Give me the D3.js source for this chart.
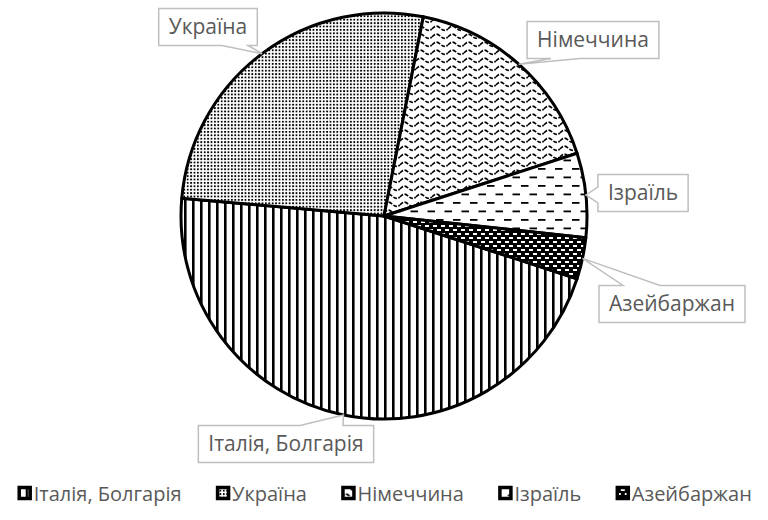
<!DOCTYPE html>
<html>
<head>
<meta charset="utf-8">
<script src="https://cdn.jsdelivr.net/npm/d3@7"></script>
<style>
  body { margin: 0; background: #fff; }
  text { font-family: "Open Sans", sans-serif; fill: #595959; }
</style>
</head>
<body>
<script>
var width = 768;
var height = 520;

// data
var countries = ["Італія, Болгарія", "Україна", "Німеччина", "Ізраїль", "Азейбаржан"];
var shares = [46.4, 26.7, 16.9, 6.7, 3.3];
var fills = ["pVert", "pDots", "pWave", "pDash", "pBrick"];

// label callouts: box centre, side the pointer leaves from, pointer base along that side
var callouts = [
  {cx: 286, cy: 444, side: "top", b0: 300, b1: 343},
  {cx: 208, cy: 27, side: "bottom", b0: 222, b1: 248},
  {cx: 593, cy: 40, side: "bottom", b0: 551, b1: 580},
  {cx: 643, cy: 193, side: "left", b0: 187, b1: 203},
  {cx: 672, cy: 304, side: "top", b0: 623, b1: 660}
];

var cx = 384, cy = 216, r = 203;

var svg = d3.select("body").append("svg")
    .attr("width", width)
    .attr("height", height);

var defs = svg.append("defs");

// vertical lines
var p = defs.append("pattern").attr("id", "pVert").attr("patternUnits", "userSpaceOnUse")
    .attr("width", 8).attr("height", 8);
p.append("rect").attr("width", 8).attr("height", 8).attr("fill", "#fff");
p.append("rect").attr("x", 0).attr("width", 2.6).attr("height", 8).attr("fill", "#000");

// small dot grid
p = defs.append("pattern").attr("id", "pDots").attr("patternUnits", "userSpaceOnUse")
    .attr("width", 3.4).attr("height", 3.4);
p.append("rect").attr("width", 3.4).attr("height", 3.4).attr("fill", "#fff");
p.append("rect").attr("width", 1.8).attr("height", 1.8).attr("fill", "#000");

// wave
p = defs.append("pattern").attr("id", "pWave").attr("patternUnits", "userSpaceOnUse")
    .attr("width", 16).attr("height", 8);
p.append("rect").attr("width", 16).attr("height", 8).attr("fill", "#fff");
p.append("path").attr("d", "M0,5 Q4,0 8,4 T16,5").attr("fill", "none")
    .attr("stroke", "#000").attr("stroke-width", 1.7).attr("stroke-dasharray", "4,1.5");

// dashed horizontal
p = defs.append("pattern").attr("id", "pDash").attr("patternUnits", "userSpaceOnUse")
    .attr("width", 17).attr("height", 17);
p.append("rect").attr("width", 17).attr("height", 17).attr("fill", "#fff");
p.append("rect").attr("x", 1).attr("y", 3).attr("width", 7.5).attr("height", 1.8).attr("fill", "#000");
p.append("rect").attr("x", 9.5).attr("y", 11.5).attr("width", 7.5).attr("height", 1.8).attr("fill", "#000");

// dark with white bricks
p = defs.append("pattern").attr("id", "pBrick").attr("patternUnits", "userSpaceOnUse")
    .attr("width", 8).attr("height", 8);
p.append("rect").attr("width", 8).attr("height", 8).attr("fill", "#000");
p.append("rect").attr("x", 1).attr("y", 1).attr("width", 4).attr("height", 2).attr("fill", "#fff");
p.append("rect").attr("x", 5).attr("y", 5).attr("width", 4).attr("height", 2).attr("fill", "#fff");
p.append("rect").attr("x", -3).attr("y", 5).attr("width", 4).attr("height", 2).attr("fill", "#fff");

var data = countries.map(function(c, i) { return {name: c, value: shares[i], fill: fills[i]}; });

var pie = d3.pie()
    .sort(null)
    .value(function(d) { return d.value; })
    .startAngle(108 * Math.PI / 180)
    .endAngle(468 * Math.PI / 180);

var arc = d3.arc().innerRadius(0).outerRadius(r);

var arcs = pie(data);

var g = svg.append("g").attr("transform", "translate(" + cx + "," + cy + ")");

g.selectAll("path.slice")
    .data(arcs)
  .enter().append("path")
    .attr("class", "slice")
    .attr("d", arc)
    .attr("fill", function(d) { return "url(#" + d.data.fill + ")"; })
    .attr("stroke", "#000")
    .attr("stroke-width", 3)
    .attr("stroke-linejoin", "round");

// callout labels
var labels = svg.append("g");

arcs.forEach(function(d, i) {
  var mid = (d.startAngle + d.endAngle) / 2;
  var ax = cx + r * Math.sin(mid), ay = cy - r * Math.cos(mid);
  var c = callouts[i];

  var t = labels.append("text")
      .attr("x", c.cx).attr("y", c.cy)
      .attr("text-anchor", "middle")
      .attr("dy", "0.35em")
      .style("font-size", "21px")
      .text(d.data.name);
  var w = t.node().getComputedTextLength() + 20;
  var h = 37;
  var x0 = c.cx - w / 2, x1 = c.cx + w / 2, y0 = c.cy - h / 2, y1 = c.cy + h / 2;

  var path;
  if (c.side == "bottom") {
    path = "M" + x0 + "," + y0 + "H" + x1 + "V" + y1 + "H" + c.b1 + "L" + ax + "," + ay + "L" + c.b0 + "," + y1 + "H" + x0 + "Z";
  } else if (c.side == "top") {
    path = "M" + x0 + "," + y0 + "H" + c.b0 + "L" + ax + "," + ay + "L" + c.b1 + "," + y0 + "H" + x1 + "V" + y1 + "H" + x0 + "Z";
  } else {
    path = "M" + x0 + "," + y0 + "H" + x1 + "V" + y1 + "H" + x0 + "V" + c.b1 + "L" + ax + "," + ay + "L" + x0 + "," + c.b0 + "Z";
  }
  labels.insert("path", "text")
      .attr("d", path)
      .attr("fill", "#fff")
      .attr("stroke", "#bfbfbf")
      .attr("stroke-width", 1.5);
});

// legend
var legend = svg.append("g");
var items = legend.selectAll("g")
    .data(data)
  .enter().append("g");

items.append("rect")
    .attr("x", 1.5).attr("width", 11).attr("height", 11)
    .attr("y", -12.5)
    .attr("fill", function(d) { return "url(#" + d.fill + ")"; })
    .attr("stroke", "#000")
    .attr("stroke-width", 3.5);

items.append("text")
    .attr("x", 16)
    .attr("y", -6.5)
    .attr("dy", "0.35em")
    .style("font-size", "20px")
    .text(function(d) { return d.name; });

var xs = [], total = 0, gap = 36;
items.each(function() {
  var bw = this.getBBox().width;
  xs.push(total);
  total += bw + gap;
});
total -= gap;
var lx = (width - total) / 2;
items.attr("transform", function(d, i) { return "translate(" + (lx + xs[i]) + ",500)"; });
</script>
</body>
</html>
